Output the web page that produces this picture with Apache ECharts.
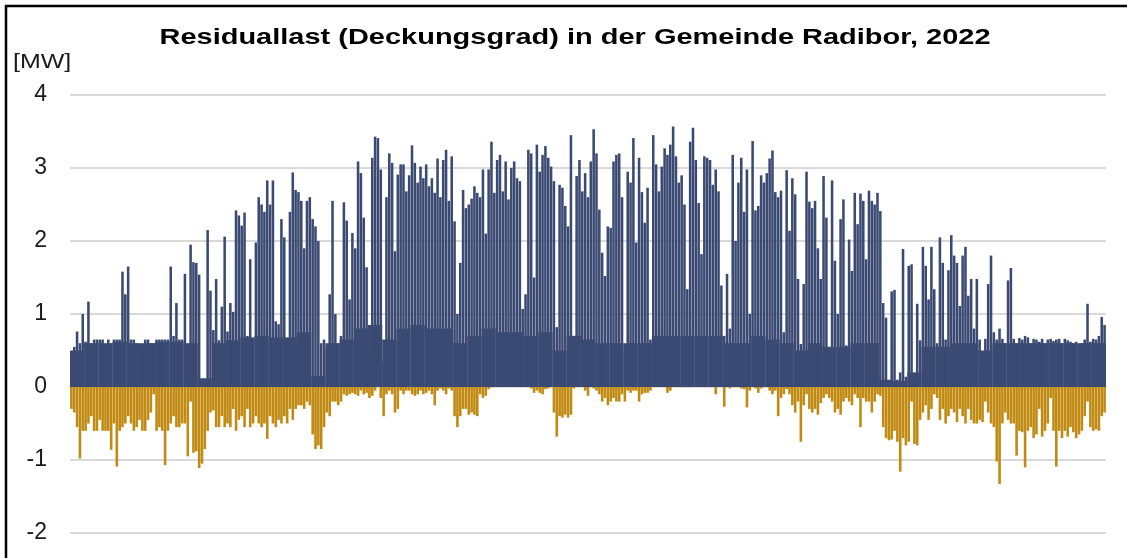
<!DOCTYPE html>
<html>
<head>
<meta charset="utf-8">
<script src="https://cdn.jsdelivr.net/npm/echarts@6/dist/echarts.min.js"></script>
<style>
html,body{margin:0;padding:0;background:#fff;}
#chart{width:1127px;height:558px;}
</style>
</head>
<body>
<div id="chart"></div>
<script>
// ---- Data (MW) ----
// Daily peak of positive residual load (365 days of 2022)
const posDay = [
0.36,0.55,0.76,0.6,1.0,0.62,1.17,0.6,0.65,0.65,
0.65,0.65,0.55,0.65,0.6,0.65,0.65,0.65,1.58,1.27,
1.65,0.65,0.65,0.6,0.55,0.55,0.65,0.65,0.6,0.6,
0.65,0.65,0.65,0.65,0.65,1.65,0.7,1.15,0.65,0.65,
1.55,0.55,1.95,1.71,1.7,1.54,0.1,0.1,2.15,1.32,
0.78,1.48,0.64,1.1,2.06,0.76,1.15,1.03,2.42,2.35,
2.21,2.39,0.7,1.75,0.65,1.98,2.6,2.5,2.4,2.83,
2.5,2.83,0.9,0.86,2.3,2.05,0.65,2.4,2.94,2.7,
2.67,2.55,1.9,2.55,2.6,2.3,2.2,2.0,0.6,0.65,
0.55,1.27,2.55,1.0,0.6,0.7,2.53,2.28,1.2,2.11,
1.9,3.09,2.93,2.32,1.64,0.45,3.14,3.43,3.41,2.98,
0.35,2.6,3.2,3.07,1.86,2.91,3.05,3.05,2.68,2.9,
3.31,3.07,2.8,3.02,2.86,3.05,2.75,2.86,2.66,3.13,
2.6,3.11,3.25,2.55,3.16,2.27,1.0,1.7,2.7,2.45,
2.5,2.58,2.75,2.66,2.6,2.98,2.1,2.98,3.36,2.66,
3.11,3.18,2.68,3.09,2.57,3.0,3.09,2.86,2.82,1.07,
1.27,3.25,3.2,1.5,3.32,2.95,3.18,3.3,3.14,3.02,
2.82,0.82,2.77,2.73,2.48,2.2,3.45,0.7,2.89,3.11,
2.68,2.93,2.6,3.09,3.53,3.2,2.43,1.84,1.52,2.2,
2.18,3.09,3.18,3.2,2.6,0.5,2.95,2.8,3.41,1.98,
3.14,2.67,2.25,2.73,0.65,3.45,3.05,2.68,3.02,3.27,
3.18,3.32,3.57,3.16,2.8,2.9,2.5,1.34,3.36,3.55,
3.11,2.52,1.82,3.16,3.14,3.11,2.77,2.98,2.68,1.39,
0.7,1.55,0.8,3.18,2.0,2.8,3.14,2.4,2.98,1.0,
3.37,2.42,2.48,2.9,2.8,2.93,3.13,3.24,2.67,2.6,
2.69,0.75,2.97,2.14,2.86,2.64,1.48,0.59,1.41,2.95,
2.54,2.45,2.55,1.9,1.48,2.89,2.32,0.55,2.83,1.73,
1.0,2.3,2.57,0.57,2.02,1.59,2.66,2.23,2.65,2.55,
1.75,2.69,2.55,2.5,2.66,2.41,1.15,0.95,0.09,1.31,
1.33,0.1,0.2,1.89,0.14,1.66,1.68,0.1,1.14,0.64,
1.92,1.66,1.2,1.92,1.34,0.6,2.05,1.7,0.65,1.6,
2.08,1.8,1.7,1.11,1.8,1.92,1.25,1.48,0.8,1.48,
0.65,0.25,0.66,1.41,1.8,0.75,0.65,0.8,0.66,0.6,
1.46,1.63,0.66,0.6,0.67,0.65,0.7,0.68,0.6,0.66,
0.65,0.62,0.66,0.6,0.65,0.66,0.63,0.65,0.66,0.6,
0.66,0.64,0.62,0.6,0.62,0.58,0.6,0.65,1.14,0.62,
0.66,0.65,0.7,0.96,0.85
];
// Daily minimum (negative residual load)
const negDay = [
-0.3,-0.35,-0.55,-0.98,-0.6,-0.6,-0.5,-0.4,-0.6,-0.6,
-0.45,-0.6,-0.6,-0.6,-0.86,-0.5,-1.09,-0.6,-0.55,-0.5,
-0.4,-0.5,-0.6,-0.55,-0.45,-0.6,-0.6,-0.45,-0.35,-0.1,
-0.6,-0.55,-0.6,-1.07,-0.6,-0.5,-0.4,-0.55,-0.55,-0.5,
-0.5,-0.95,-0.2,-0.9,-0.88,-1.11,-1.05,-0.85,-0.6,-0.35,
-0.32,-0.55,-0.55,-0.4,-0.55,-0.5,-0.55,-0.3,-0.6,-0.45,
-0.4,-0.55,-0.3,-0.55,-0.5,-0.4,-0.5,-0.55,-0.5,-0.71,
-0.4,-0.5,-0.55,-0.45,-0.5,-0.4,-0.5,-0.3,-0.45,-0.3,
-0.25,-0.25,-0.3,-0.2,-0.25,-0.65,-0.85,-0.8,-0.85,-0.55,
-0.35,-0.4,-0.2,-0.2,-0.25,-0.2,-0.1,-0.12,-0.1,-0.08,
-0.1,-0.12,-0.05,-0.1,-0.08,-0.15,-0.12,-0.05,0,-0.15,
-0.4,-0.1,-0.05,-0.1,-0.35,-0.3,-0.05,-0.1,-0.05,-0.05,
-0.1,-0.12,-0.1,-0.05,-0.1,-0.08,-0.05,-0.1,-0.25,-0.05,
-0.02,-0.05,-0.1,-0.02,-0.05,-0.4,-0.55,-0.4,-0.3,-0.3,
-0.38,-0.35,-0.38,-0.4,-0.1,-0.15,-0.12,-0.03,0,0,
0,0,0,0,0,0,0,0,0,0,
0,0,-0.02,-0.08,-0.05,-0.08,-0.1,-0.03,-0.02,0,
-0.35,-0.68,-0.4,-0.42,-0.38,-0.42,-0.38,-0.02,0,0,
0,-0.05,-0.12,0,-0.02,-0.05,-0.1,-0.2,-0.15,-0.25,
-0.2,-0.15,-0.2,-0.2,-0.1,-0.2,-0.05,-0.08,-0.05,-0.05,
-0.2,-0.1,-0.08,-0.08,-0.05,0,0,0,0,0,
-0.08,-0.05,0,0,0,0,0,0,0,0,
0,0,0,0,0,0,0,-0.1,0,0,
-0.27,0,-0.02,0,0,0,-0.02,-0.03,-0.28,-0.05,
0,-0.02,-0.08,-0.02,0,0,-0.05,-0.1,-0.05,-0.4,
-0.15,-0.1,-0.03,-0.1,-0.25,-0.35,-0.2,-0.75,-0.25,-0.1,
-0.3,-0.35,-0.3,-0.38,-0.22,-0.15,-0.1,-0.15,-0.2,-0.35,
-0.3,-0.38,-0.2,-0.15,-0.2,-0.25,-0.1,-0.15,-0.55,-0.15,
-0.2,-0.2,-0.35,-0.2,-0.1,-0.12,-0.55,-0.7,-0.73,-0.72,
-0.6,-0.75,-1.16,-0.7,-0.8,-0.75,-0.2,-0.78,-0.8,-0.45,
-0.35,-0.25,-0.45,-0.3,-0.1,-0.15,-0.45,-0.3,-0.5,-0.4,
-0.3,-0.35,-0.48,-0.3,-0.4,-0.5,-0.3,-0.45,-0.5,-0.5,
-0.45,-0.48,-0.2,-0.35,-0.5,-0.55,-1.02,-1.33,-0.5,-0.35,
-0.45,-0.5,-0.5,-0.94,-0.6,-0.62,-1.1,-0.6,-0.55,-0.7,
-0.65,-0.3,-0.68,-0.6,-0.5,-0.15,-0.6,-1.09,-0.6,-0.7,
-0.6,-0.68,-0.55,-0.62,-0.7,-0.65,-0.6,-0.4,-0.2,-0.55,
-0.6,-0.58,-0.6,-0.4,-0.35
];
// Typical (base) positive level per 5-day period, 73 periods
const posBase = [
0.5,0.6,0.6,0.62,0.6,0.6,0.62,0.62,0.6,0.12,
0.6,0.64,0.68,0.7,0.68,0.68,0.75,0.15,0.6,0.65,
0.8,0.85,0.65,0.8,0.85,0.8,0.8,0.6,0.7,0.8,
0.75,0.75,0.7,0.75,0.5,0.7,0.65,0.6,0.6,0.6,
0.6,0.7,0.7,0.7,0.7,0.7,0.6,0.6,0.7,0.65,
0.6,0.5,0.6,0.55,0.55,0.6,0.6,0.1,0.08,0.2,
0.55,0.55,0.6,0.6,0.5,0.6,0.6,0.6,0.6,0.6,
0.6,0.6,0.6
];
// Y axis ticks
const yMin = -2, yMax = 4, yStep = 1;
const titleText = 'Residuallast (Deckungsgrad) in der Gemeinde Radibor, 2022';
const unitText = '[MW]';

// Categories: days of 2022 and 5-day periods
const days = [];
for (let i = 0; i < 365; i++) {
  const d = new Date(Date.UTC(2022, 0, 1 + i));
  days.push(d.toISOString().slice(0, 10));
}
const periods = [];
for (let b = 0; b < 73; b++) periods.push(days[b * 5]);

const NAVY = '#3b4a73';
const GOLD = '#c18a12';

const chart = echarts.init(document.getElementById('chart'), null, {renderer: 'canvas'});
chart.setOption({
  animation: false,
  backgroundColor: '#ffffff',
  grid: {left: 70, right: 21, top: 95, bottom: 25, outerBoundsMode: 'none'},
  xAxis: [
    {type: 'category', data: days, show: false, boundaryGap: true},
    {type: 'category', data: periods, show: false, boundaryGap: true}
  ],
  yAxis: {
    type: 'value', min: yMin, max: yMax, interval: yStep,
    axisLine: {show: false}, axisTick: {show: false},
    axisLabel: {fontFamily: 'Liberation Sans', fontSize: 23, color: '#1a1a1a', margin: 23},
    splitLine: {show: true, lineStyle: {color: '#d9d9d9', width: 2}}
  },
  series: [
    {type: 'bar', name: 'base+', xAxisIndex: 1, data: posBase, barCategoryGap: '0%', barGap: '-100%', itemStyle: {color: NAVY}, silent: true, z: 1},
    {type: 'bar', name: 'Residuallast +', xAxisIndex: 0, data: posDay, barWidth: '90%', barGap: '-100%', itemStyle: {color: NAVY}, silent: true, z: 2},
    {type: 'bar', name: 'Residuallast -', xAxisIndex: 0, data: negDay, barWidth: '92%', barGap: '-100%', itemStyle: {color: GOLD}, silent: true, z: 2}
  ],
  graphic: [
    {type: 'rect', shape: {x: 6, y: 6, width: 1300, height: 800}, style: {fill: 'none', stroke: '#000', lineWidth: 2.5}, silent: true, z: 10},
    {type: 'text', x: 575, y: 38, scaleX: 1.38, scaleY: 1.05,
     style: {text: titleText, font: 'bold 21px "Liberation Sans"', fill: '#000', align: 'center', textAlign: 'center', verticalAlign: 'middle', textVerticalAlign: 'middle'}},
    {type: 'text', x: 13, y: 62, scaleX: 1.25, scaleY: 1,
     style: {text: unitText, font: '20px "Liberation Sans"', fill: '#1a1a1a', align: 'left', textAlign: 'left', verticalAlign: 'middle', textVerticalAlign: 'middle'}}
  ]
});
</script>
</body>
</html>
